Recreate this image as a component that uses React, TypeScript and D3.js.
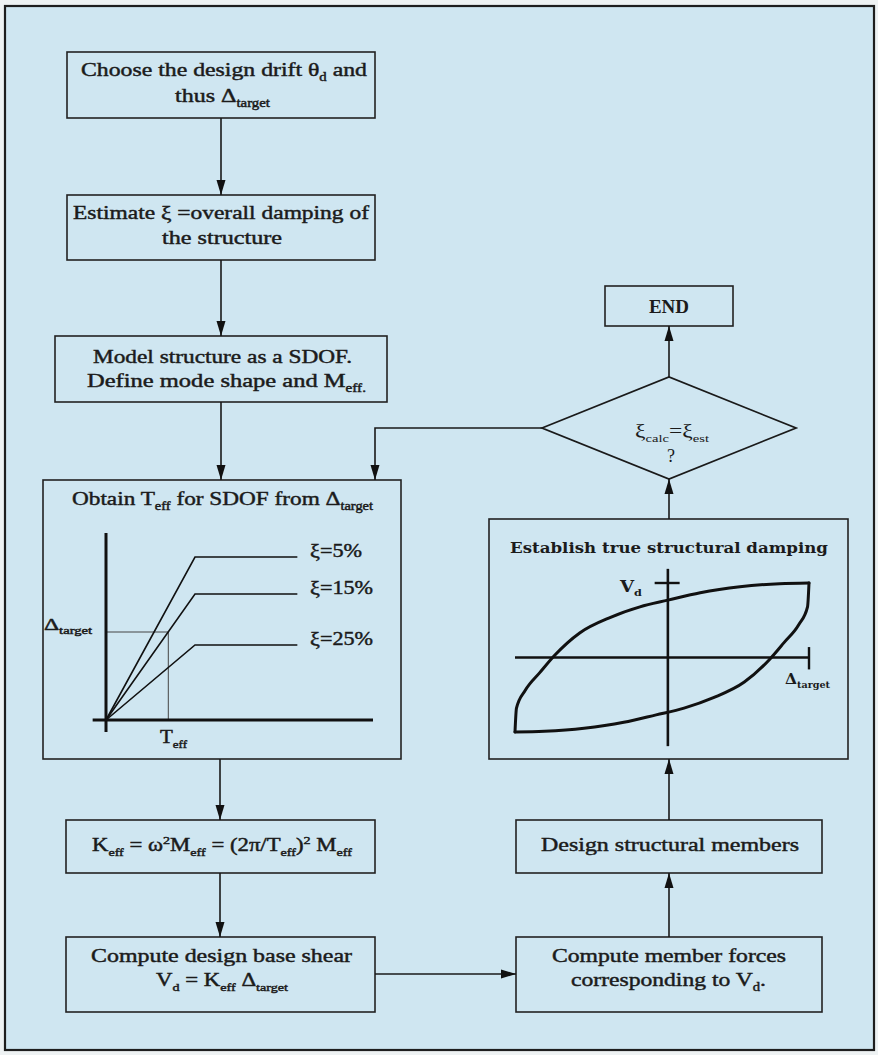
import React from "react";
import * as d3 from "d3";

// ---------- data ----------
const dampingLabels = ["ξ=5%", "ξ=15%", "ξ=25%"];
const plateauDisp = [163, 126, 75];
const cornerPeriod = 2.0;
const plateauEndPeriod = 4.3;
const targetDisp = 88;
const effPeriod = 1.4;

const loopUpperD = [-1, -0.99, -0.93, -0.83, -0.73, -0.56, -0.35, -0.15, 0.04, 0.26, 0.53, 0.8, 1];
const loopUpperV = [-1, -0.68, -0.44, -0.2, 0.03, 0.33, 0.54, 0.68, 0.77, 0.87, 0.95, 0.99, 1];
const loopLowerD = [-1, -0.8, -0.53, -0.26, -0.04, 0.15, 0.35, 0.56, 0.73, 0.83, 0.93, 0.99, 1];
const loopLowerV = [-1, -0.99, -0.95, -0.87, -0.77, -0.68, -0.54, -0.33, -0.03, 0.2, 0.44, 0.68, 1];

type Seg = [string, "n" | "s" | "p"];

// ---------- styles ----------
const BG = "#cfe6f1";
const INK = "#1b1b1b";
const SERIF = "'Liberation Serif', 'Times New Roman', serif";
const SCHOOL = "'DejaVu Serif', serif";

function Rich({ x, y, len, size, segs, family = SERIF, weight = "normal", anchor = "start", heavy = true }: any) {
  let shift = 0;
  const kids = segs.map(([t, k]: Seg, i: number) => {
    const target = k === "s" ? size * 0.28 : k === "p" ? -size * 0.38 : 0;
    const dy = target - shift;
    shift = target;
    return (
      <tspan key={i} dy={dy} fontSize={k === "n" ? size : size * 0.62}>
        {t}
      </tspan>
    );
  });
  return (
    <text
      x={x}
      y={y}
      fontFamily={family}
      fontWeight={weight}
      fontSize={size}
      fill={INK}
      stroke={heavy ? INK : "none"}
      strokeWidth={heavy ? 0.45 : 0}
      textAnchor={anchor}
      {...(len ? { textLength: len, lengthAdjust: "spacingAndGlyphs" } : {})}
      style={{ whiteSpace: "pre" }}
    >
      {kids}
    </text>
  );
}

function Box({ x0, x1, y0, y1 }: any) {
  return <rect x={x0} y={y0} width={x1 - x0} height={y1 - y0} fill="none" stroke="#222" strokeWidth={1.6} />;
}

function Arrow({ pts }: { pts: [number, number][] }) {
  const line = d3.line();
  const n = pts.length;
  const [xa, ya] = pts[n - 2];
  const [xb, yb] = pts[n - 1];
  const ang = Math.atan2(yb - ya, xb - xa);
  const L = 15, W = 4.5;
  const bx = xb - L * Math.cos(ang), by = yb - L * Math.sin(ang);
  const px = -Math.sin(ang) * W, py = Math.cos(ang) * W;
  const head = `M${xb},${yb}L${bx + px},${by + py}L${bx - px},${by - py}Z`;
  return (
    <g>
      <path d={line(pts) as string} fill="none" stroke="#1a1a1a" strokeWidth={1.6} />
      <path d={head} fill="#111" />
    </g>
  );
}

export default function App() {
  // spectrum scales
  const tScale = d3.scaleLinear().domain([0, 6]).range([106, 373]);
  const dispScale = d3.scaleLinear().domain([0, 200]).range([720, 520]);
  const specLine = d3
    .line<[number, number]>()
    .x((d) => tScale(d[0]))
    .y((d) => dispScale(d[1]));

  // hysteresis scales
  const dScale = d3.scaleLinear().domain([-1, 1]).range([515, 809]);
  const vScale = d3.scaleLinear().domain([-1, 1]).range([732, 583]);
  const loopLine = d3
    .line<[number, number]>()
    .x((d) => dScale(d[0]))
    .y((d) => vScale(d[1]))
    .curve(d3.curveMonotoneX);
  const upper = loopUpperD.map((d, i) => [d, loopUpperV[i]] as [number, number]);
  const lower = loopLowerD.map((d, i) => [d, loopLowerV[i]] as [number, number]);
  const vAxisD = 0.04;

  return (
    <svg
      width={878}
      height={1055}
      style={{ position: "absolute", left: 0, top: 0, display: "block" }}
    >
      <rect x={0} y={0} width={878} height={1055} fill="#eef2f3" />
      <rect x={5} y={6} width={869} height={1044} fill={BG} stroke="#1e1e1e" strokeWidth={2.2} />

      {/* ---- left column boxes ---- */}
      <Box x0={67} x1={375} y0={52} y1={118} />
      <Rich x={81} y={76} len={286} size={19} segs={[["Choose the design drift θ", "n"], ["d", "s"], [" and", "n"]]} />
      <Rich x={175} y={102} len={95} size={19} segs={[["thus Δ", "n"], ["target", "s"]]} />

      <Box x0={67} x1={375} y0={195} y1={260} />
      <Rich x={73} y={219} len={296} size={19} segs={[["Estimate ξ =overall damping of", "n"]]} />
      <Rich x={162} y={244} len={120} size={19} segs={[["the structure", "n"]]} />

      <Box x0={55} x1={387} y0={336} y1={402} />
      <Rich x={93} y={363} len={259} size={19} segs={[["Model structure as a SDOF.", "n"]]} />
      <Rich x={87} y={387} len={279} size={19} segs={[["Define mode shape and M", "n"], ["eff.", "s"]]} />

      <Box x0={43} x1={401} y0={480} y1={759} />
      <Rich x={72} y={505} len={301} size={19} segs={[["Obtain T", "n"], ["eff", "s"], [" for SDOF from Δ", "n"], ["target", "s"]]} />

      {/* spectrum chart */}
      <line x1={tScale(0)} x2={tScale(effPeriod)} y1={dispScale(targetDisp)} y2={dispScale(targetDisp)} stroke="#444" strokeWidth={1} />
      <line x1={tScale(effPeriod)} x2={tScale(effPeriod)} y1={dispScale(targetDisp)} y2={dispScale(0)} stroke="#444" strokeWidth={1} />
      {plateauDisp.map((p, i) => (
        <path
          key={i}
          d={specLine([[0, 0], [cornerPeriod, p], [plateauEndPeriod, p]]) as string}
          fill="none"
          stroke="#111"
          strokeWidth={1.6}
        />
      ))}
      <line x1={tScale(0)} x2={tScale(0)} y1={dispScale(-12)} y2={dispScale(187)} stroke="#111" strokeWidth={3} />
      <line x1={tScale(-0.3)} x2={tScale(6)} y1={dispScale(0)} y2={dispScale(0)} stroke="#111" strokeWidth={3} />
      {dampingLabels.map((lab, i) => (
        <Rich key={lab} x={310} y={dispScale(plateauDisp[i]) - 3 + 0.5 * 6} len={i === 0 ? 52 : 63} size={19} segs={[[lab, "n"]]} />
      ))}
      <Rich x={44} y={dispScale(targetDisp) - 2} len={48} size={16} segs={[["Δ", "n"], ["target", "s"]]} />
      <Rich x={160} y={743} len={27} size={18} segs={[["T", "n"], ["eff", "s"]]} />

      <Box x0={66} x1={375} y0={820} y1={873} />
      <Rich
        x={92}
        y={851}
        len={260}
        size={18}
        segs={[
          ["K", "n"], ["eff", "s"], [" = ω", "n"], ["2", "p"], ["M", "n"], ["eff", "s"],
          [" = (2π/T", "n"], ["eff", "s"], [")", "n"], ["2", "p"], [" M", "n"], ["eff", "s"],
        ]}
      />

      <Box x0={66} x1={375} y0={937} y1={1012} />
      <Rich x={91} y={962} len={261} size={19} segs={[["Compute design base shear", "n"]]} />
      <Rich x={156} y={986} len={132} size={18} segs={[["V", "n"], ["d", "s"], [" = K", "n"], ["eff", "s"], [" Δ", "n"], ["target", "s"]]} />

      {/* ---- right column ---- */}
      <Box x0={516} x1={822} y0={937} y1={1012} />
      <Rich x={552} y={962} len={234} size={19} segs={[["Compute member forces", "n"]]} />
      <Rich x={571} y={986} len={195} size={19} segs={[["corresponding to V", "n"], ["d", "s"], [".", "n"]]} />

      <Box x0={516} x1={822} y0={820} y1={873} />
      <Rich x={541} y={851} len={258} size={19} segs={[["Design structural members", "n"]]} />

      <Box x0={489} x1={848} y0={519} y1={759} />
      <Rich x={510} y={553} len={318} size={15} family={SCHOOL} weight="bold" heavy={false} segs={[["Establish true structural damping", "n"]]} />

      {/* hysteresis */}
      <path d={loopLine(upper) as string} fill="none" stroke="#111" strokeWidth={3} strokeLinecap="round" />
      <path d={loopLine(lower) as string} fill="none" stroke="#111" strokeWidth={3} strokeLinecap="round" />
      <line x1={dScale(-1)} x2={dScale(1)} y1={vScale(0)} y2={vScale(0)} stroke="#111" strokeWidth={2.4} />
      <line x1={dScale(1)} x2={dScale(1)} y1={vScale(0.14)} y2={vScale(-0.16)} stroke="#111" strokeWidth={2.4} />
      <line x1={dScale(vAxisD)} x2={dScale(vAxisD)} y1={vScale(1.19)} y2={vScale(-1.19)} stroke="#111" strokeWidth={2.6} />
      <line x1={dScale(-0.05)} x2={dScale(0.12)} y1={vScale(1)} y2={vScale(1)} stroke="#111" strokeWidth={2.4} />
      <Rich x={620} y={592} len={22} size={16} family={SCHOOL} weight="bold" heavy={false} segs={[["V", "n"], ["d", "s"]]} />
      <Rich x={785} y={684} len={45} size={15} family={SCHOOL} weight="bold" heavy={false} segs={[["Δ", "n"], ["target", "s"]]} />

      {/* diamond */}
      <path d="M542,428L669,377L796,428L669,479Z" fill="none" stroke="#1a1a1a" strokeWidth={1.8} />
      <Rich x={635} y={437} len={74} size={18} heavy={false} segs={[["ξ", "n"], ["calc", "s"], ["=ξ", "n"], ["est", "s"]]} />
      <Rich x={671} y={462} size={18} anchor="middle" heavy={false} segs={[["?", "n"]]} />

      <Box x0={605} x1={733} y0={286} y1={326} />
      <Rich x={669} y={313} size={19} weight="bold" anchor="middle" heavy={false} segs={[["END", "n"]]} />

      {/* ---- connectors ---- */}
      <Arrow pts={[[221, 118], [221, 195]]} />
      <Arrow pts={[[221, 260], [221, 336]]} />
      <Arrow pts={[[221, 402], [221, 480]]} />
      <Arrow pts={[[220, 759], [220, 820]]} />
      <Arrow pts={[[220, 873], [220, 937]]} />
      <Arrow pts={[[375, 974], [516, 974]]} />
      <Arrow pts={[[669, 937], [669, 873]]} />
      <Arrow pts={[[669, 820], [669, 759]]} />
      <Arrow pts={[[669, 519], [669, 479]]} />
      <Arrow pts={[[669, 377], [669, 326]]} />
      <Arrow pts={[[542, 428], [375, 428], [375, 480]]} />
    </svg>
  );
}
